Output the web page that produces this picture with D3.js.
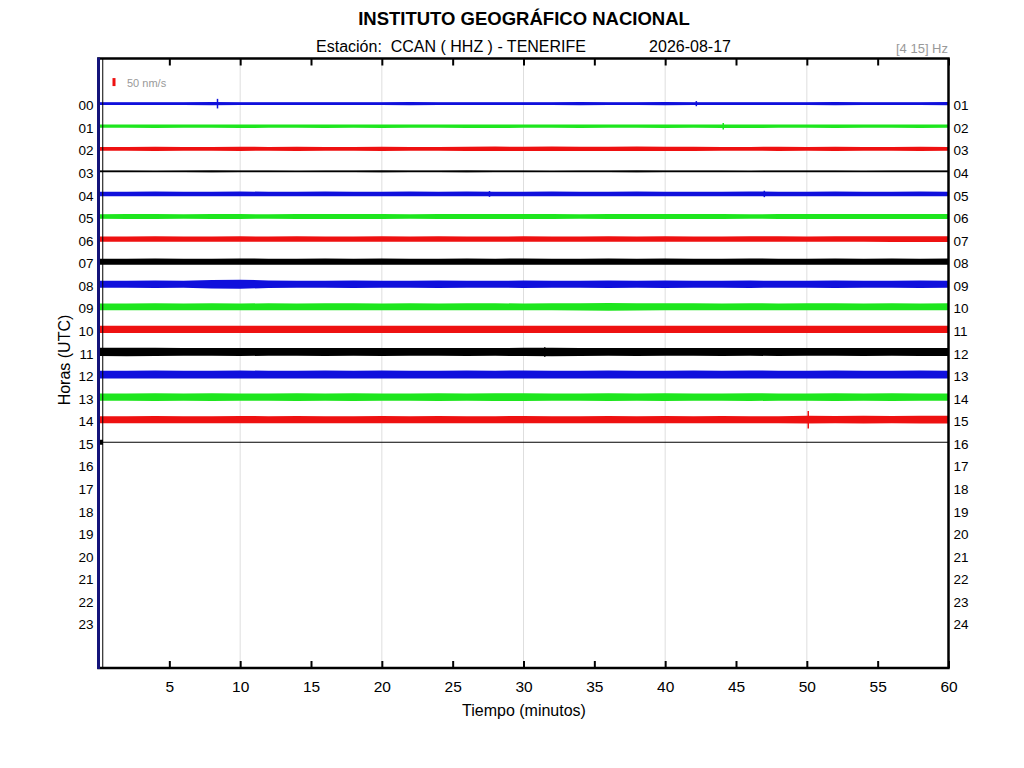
<!DOCTYPE html>
<html>
<head>
<meta charset="utf-8">
<script src="https://cdn.jsdelivr.net/npm/d3@7"></script>
<style>
  body { margin: 0; background: #fff; }
  svg { font-family: "Liberation Sans", Arial, sans-serif; }
</style>
</head>
<body>
<div id="chart"></div>
<script>
const WIDTH = 1024;
const HEIGHT = 768;

const BOX = { left: 98.5, right: 948.5, top: 58.5, bottom: 668 };

// hour rows, tick labels
const hours = d3.range(0, 24);
const xTicks = [5, 10, 15, 20, 25, 30, 35, 40, 45, 50, 55, 60];
const gridMinutes = [10, 20, 30, 40, 50];
const traceColors = ["#1010dc", "#1ee61e", "#ee1111", "#000000"];

// envelope half-amplitude (nm/s) of each hour trace, read every 2 minutes (0..60)
const amp00 = [9, 8, 9, 9, 10, 9, 8, 9, 9, 8, 9, 10, 9, 9, 8, 9, 9, 10, 9, 9, 10, 9, 9, 8, 9, 9, 10, 9, 9, 9, 10];
const amp01 = [10, 10, 11, 10, 10, 11, 10, 10, 11, 10, 11, 10, 10, 11, 11, 10, 10, 11, 10, 10, 11, 10, 11, 11, 10, 10, 11, 10, 10, 11, 10];
const amp02 = [12, 12, 13, 12, 12, 13, 12, 13, 12, 12, 13, 12, 12, 13, 14, 13, 14, 13, 13, 14, 13, 13, 12, 12, 13, 12, 13, 12, 12, 13, 12];
const amp03 = [4, 4, 3, 4, 5, 4, 4, 3, 4, 4, 5, 4, 4, 5, 4, 4, 3, 4, 4, 5, 4, 4, 4, 3, 4, 4, 4, 3, 4, 4, 4];
const amp04 = [14, 14, 15, 14, 14, 15, 14, 14, 15, 14, 14, 15, 14, 15, 14, 14, 15, 14, 14, 15, 14, 14, 14, 15, 14, 14, 15, 14, 14, 15, 14];
const amp05 = [14, 15, 15, 14, 15, 15, 14, 15, 16, 15, 15, 14, 15, 15, 16, 15, 15, 14, 15, 16, 15, 15, 15, 14, 15, 15, 15, 16, 15, 15, 15];
const amp06 = [16, 16, 17, 16, 16, 17, 16, 17, 16, 16, 17, 16, 17, 16, 16, 17, 16, 16, 17, 16, 17, 16, 16, 17, 17, 16, 17, 17, 18, 18, 18];
const amp07 = [19, 19, 20, 19, 19, 20, 19, 19, 20, 19, 20, 19, 19, 20, 19, 20, 19, 19, 20, 19, 20, 19, 19, 20, 19, 19, 20, 19, 20, 19, 20];
const amp08 = [22, 22, 23, 22, 26, 28, 24, 22, 22, 23, 22, 22, 23, 22, 22, 23, 22, 22, 23, 22, 23, 22, 22, 23, 22, 22, 23, 22, 22, 23, 22];
const amp09 = [21, 21, 22, 21, 22, 21, 22, 21, 22, 22, 21, 22, 21, 22, 22, 21, 22, 23, 24, 23, 22, 22, 21, 22, 21, 22, 22, 21, 22, 21, 22];
const amp10 = [22, 22, 23, 22, 22, 23, 22, 23, 22, 22, 23, 22, 23, 22, 23, 22, 22, 23, 22, 23, 22, 22, 23, 22, 23, 22, 22, 23, 22, 23, 23];
const amp11 = [26, 27, 26, 24, 24, 25, 24, 24, 25, 24, 25, 24, 24, 25, 24, 26, 27, 25, 24, 25, 24, 24, 25, 24, 25, 24, 24, 25, 24, 25, 25];
const amp12 = [24, 24, 25, 24, 24, 25, 24, 24, 25, 24, 25, 24, 24, 25, 24, 25, 24, 24, 25, 24, 24, 25, 24, 25, 24, 24, 25, 24, 24, 25, 24];
const amp13 = [23, 23, 24, 23, 24, 23, 23, 24, 23, 24, 23, 23, 24, 23, 24, 24, 23, 23, 24, 23, 24, 23, 23, 24, 23, 23, 24, 23, 24, 23, 23];
const amp14 = [22, 22, 23, 22, 22, 23, 22, 23, 22, 22, 23, 22, 23, 22, 22, 23, 22, 22, 23, 22, 23, 22, 23, 22, 22, 24, 23, 24, 23, 24, 24];
const amp15 = [0, 0, 0, 0, 0, 0, 0, 0, 0, 0, 0, 0, 0, 0, 0, 0, 0, 0, 0, 0, 0, 0, 0, 0, 0, 0, 0, 0, 0, 0, 0];
const traceAmps = [amp00, amp01, amp02, amp03, amp04, amp05, amp06, amp07,
                   amp08, amp09, amp10, amp11, amp12, amp13, amp14, amp15];

// small events (hour, minute, half-amplitude nm/s)
const eventHours = [0, 0, 1, 4, 4, 11, 14];
const eventMinutes = [8.4, 42.2, 44.1, 27.6, 47.0, 31.5, 50.1];
const eventAmps = [30, 16, 20, 18, 20, 30, 55];

const svg = d3.select("#chart").append("svg")
    .attr("width", WIDTH).attr("height", HEIGHT);

const x = d3.scaleLinear().domain([0, 60]).range([BOX.left, BOX.right]);
const y = d3.scaleLinear().domain([-2, 25]).range([BOX.top, BOX.bottom]);
const a = d3.scaleLinear().domain([0, 50]).range([0, 8]);   // 50 nm/s -> 8 px

// titles
svg.append("text")
   .attr("x", 524).attr("y", 25)
   .attr("text-anchor", "middle")
   .attr("font-weight", "bold").attr("font-size", 18.5)
   .text("INSTITUTO GEOGRÁFICO NACIONAL");
svg.append("text")
   .attr("x", 451).attr("y", 51.5)
   .attr("text-anchor", "middle").attr("font-size", 16)
   .style("white-space", "pre")
   .text("Estación:  CCAN ( HHZ ) - TENERIFE");
svg.append("text")
   .attr("x", 690).attr("y", 51.5)
   .attr("text-anchor", "middle").attr("font-size", 16)
   .text("2026-08-17");
svg.append("text")
   .attr("x", 948).attr("y", 52.5)
   .attr("text-anchor", "end").attr("font-size", 13)
   .attr("fill", "#999")
   .text("[4 15] Hz");

// grid lines
svg.append("g").selectAll("line")
   .data(gridMinutes).join("line")
   .attr("x1", d => x(d)).attr("x2", d => x(d))
   .attr("y1", BOX.top).attr("y2", BOX.bottom)
   .attr("stroke", "#dedede").attr("stroke-width", 1);

// traces
const traces = svg.append("g");
traceAmps.forEach((amps, h) => {
    const pts = amps.map((v, i) => ({ m: i * 2, v: v }));
    const color = traceColors[h % 4];
    traces.append("path")
          .attr("fill", color)
          .attr("d", d3.area()
              .x(p => x(p.m))
              .y0(p => y(h) - a(p.v))
              .y1(p => y(h) + a(p.v))(pts));
    traces.append("path")
          .attr("fill", "none")
          .attr("stroke", color)
          .attr("stroke-width", h === 15 ? 1.2 : 1.8)
          .attr("d", d3.line().x(p => x(p.m)).y(() => y(h))(pts));
});
traces.selectAll("line.event")
      .data(eventHours).join("line")
      .attr("class", "event")
      .attr("x1", (d, i) => x(eventMinutes[i])).attr("x2", (d, i) => x(eventMinutes[i]))
      .attr("y1", (d, i) => y(d) - a(eventAmps[i]))
      .attr("y2", (d, i) => y(d) + a(eventAmps[i]))
      .attr("stroke", d => traceColors[d % 4])
      .attr("stroke-width", 1.5);
// current-hour start marker
traces.append("rect")
      .attr("x", x(0) + 0.5).attr("y", y(15) - 2.5)
      .attr("width", 4).attr("height", 5)
      .attr("fill", "#000");

// scale bar
svg.append("rect")
   .attr("x", 112.5).attr("y", y(-1) - 3)
   .attr("width", 3).attr("height", a(50))
   .attr("fill", "#ee1111");
svg.append("text")
   .attr("x", 127).attr("y", y(-1) + 5.5)
   .attr("font-size", 11).attr("fill", "#999")
   .text("50 nm/s");

// axes
const xAxis = svg.append("g")
    .attr("transform", `translate(0, ${BOX.bottom})`)
    .call(d3.axisBottom(x).tickValues(xTicks).tickSize(-7).tickPadding(13));
xAxis.select(".domain").remove();
xAxis.selectAll("line").attr("stroke-width", 2);
xAxis.selectAll("text").attr("font-size", 15.5).attr("font-family", "Liberation Sans");

const xTop = svg.append("g")
    .attr("transform", `translate(0, ${BOX.top})`)
    .call(d3.axisTop(x).tickValues(xTicks).tickSize(-7).tickFormat(""));
xTop.select(".domain").remove();
xTop.selectAll("line").attr("stroke-width", 2);

const yLeft = svg.append("g")
    .attr("transform", `translate(${BOX.left}, 0)`)
    .call(d3.axisLeft(y).tickValues(hours).tickSize(0).tickPadding(5)
            .tickFormat(d3.format("02d")));
yLeft.select(".domain").remove();
yLeft.selectAll("text").attr("font-size", 13.5).attr("font-family", "Liberation Sans")
     .attr("dy", "0.45em");

const yRight = svg.append("g")
    .attr("transform", `translate(${BOX.right}, 0)`)
    .call(d3.axisRight(y).tickValues(hours).tickSize(0).tickPadding(5)
            .tickFormat(d => d3.format("02d")(d + 1)));
yRight.select(".domain").remove();
yRight.selectAll("text").attr("font-size", 13.5).attr("font-family", "Liberation Sans")
      .attr("dy", "0.45em");

// frame
svg.append("rect")
   .attr("x", BOX.left).attr("y", BOX.top)
   .attr("width", BOX.right - BOX.left).attr("height", BOX.bottom - BOX.top)
   .attr("fill", "none").attr("stroke", "#000").attr("stroke-width", 2.5);
svg.append("line")
   .attr("x1", BOX.left).attr("x2", BOX.left)
   .attr("y1", BOX.top - 1).attr("y2", BOX.bottom + 1)
   .attr("stroke", "#14147a").attr("stroke-width", 3);
svg.append("line")
   .attr("x1", x(0.3)).attr("x2", x(0.3))
   .attr("y1", BOX.top).attr("y2", BOX.bottom)
   .attr("stroke", "#000").attr("stroke-width", 1);

// axis titles
svg.append("text")
   .attr("x", 524).attr("y", 715.5)
   .attr("text-anchor", "middle").attr("font-size", 16)
   .text("Tiempo (minutos)");
svg.append("text")
   .attr("transform", "translate(70, 360) rotate(-90)")
   .attr("text-anchor", "middle").attr("font-size", 16)
   .text("Horas (UTC)");
</script>
</body>
</html>
